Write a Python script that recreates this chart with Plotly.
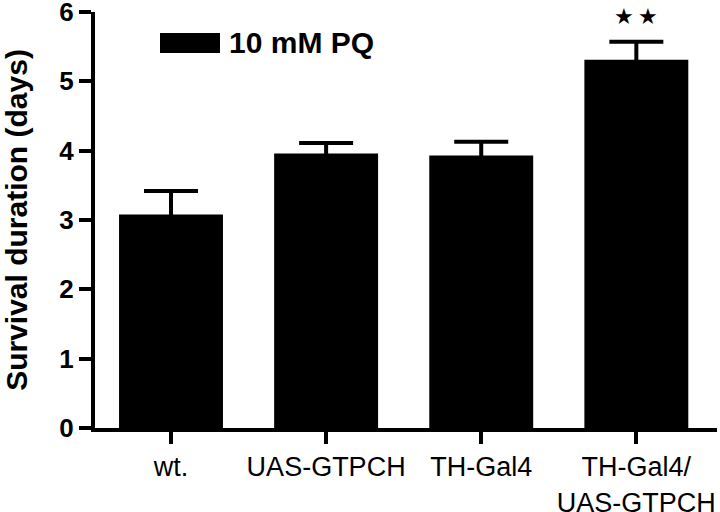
import plotly.graph_objects as go

categories = ["wt.", "UAS-GTPCH", "TH-Gal4", "TH-Gal4/<br>UAS-GTPCH"]
means = [3.08, 3.96, 3.93, 5.31]
sems = [0.34, 0.15, 0.20, 0.26]
series_name = "10 mM PQ"
significance = ["", "", "", "★\u2009★"]
y_ticks = [0, 1, 2, 3, 4, 5, 6]

FONT = "Liberation Sans, Arial, Helvetica, sans-serif"

fig = go.Figure()
fig.add_trace(go.Bar(
    x=list(range(len(categories))),
    y=means,
    width=0.67,
    marker=dict(color="black", line=dict(width=0)),
    error_y=dict(type="data", array=sems, visible=True, color="black",
                 thickness=4, width=27),
    name=series_name,
    showlegend=False,
))

for i, s in enumerate(significance):
    if s:
        fig.add_annotation(x=i, y=means[i] + sems[i], text=s, showarrow=False,
                           yanchor="bottom", yshift=11,
                           font=dict(family="DejaVu Sans", size=22, color="black"))

# legend
fig.add_shape(type="rect", xref="paper", yref="paper",
              x0=(160 - 95) / 622, x1=(220 - 95) / 622,
              y0=(428 - 53) / 416, y1=(428 - 33) / 416,
              fillcolor="black", line=dict(width=0))
fig.add_annotation(xref="paper", yref="paper", x=(227 - 95) / 622, y=(428 - 43) / 416,
                   xanchor="left", yanchor="middle", text="<b>" + series_name + "</b>",
                   showarrow=False, font=dict(family=FONT, size=30, color="black"))

fig.update_layout(
    width=720, height=512,
    margin=dict(l=95, r=3, t=12, b=84),
    plot_bgcolor="white", paper_bgcolor="white",
    bargap=0.33,
)
fig.update_xaxes(
    range=[-0.49, 3.52], automargin=False,
    tickmode="array", tickvals=list(range(len(categories))), ticktext=categories,
    ticks="outside", ticklen=12, tickwidth=4, tickcolor="black",
    showline=True, linewidth=4, linecolor="black",
    showgrid=False, zeroline=False,
    tickfont=dict(family=FONT, size=27, color="black"),
)
fig.update_yaxes(
    range=[0, 6], tickmode="array", tickvals=y_ticks, automargin=False,
    ticktext=["<b>%d</b>" % v for v in y_ticks],
    ticks="outside", ticklen=12, tickwidth=4, tickcolor="black",
    showline=True, linewidth=4, linecolor="black",
    showgrid=False, zeroline=False, ticklabeloverflow="allow",
    tickfont=dict(family=FONT, size=26, color="black"),
    title=dict(text="<b>Survival duration (days)</b>", standoff=38,
               font=dict(family=FONT, size=30, color="black")),
)

fig.write_html("out.html", config={"displayModeBar": False},
               post_script="document.body.style.margin='0px';")
